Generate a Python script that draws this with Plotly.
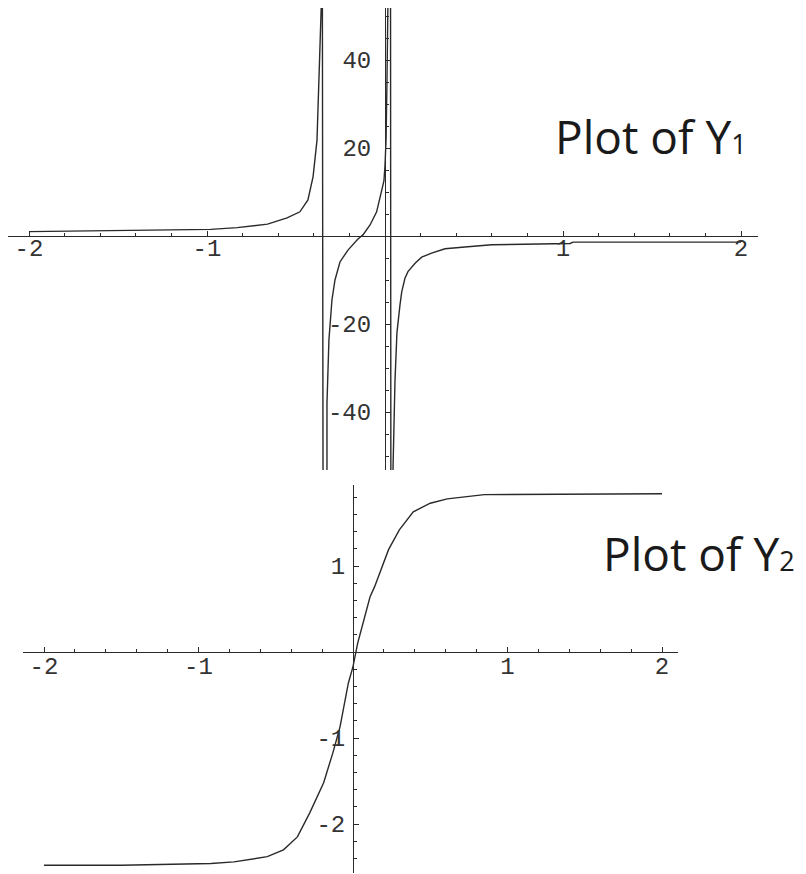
import plotly.graph_objects as go

# ---------- data ---------- #
# Y1: three branches, joined across the poles like the original plot does
y1_x = [-2.0, -1.6, -1.30, -0.98, -0.83, -0.66, -0.55, -0.478, -0.433, -0.412,
        -0.404, -0.382, -0.376, -0.36, -0.352, -0.348, -0.327, -0.326, -0.326,
        -0.315, -0.298, -0.281, -0.253, -0.208, -0.152, -0.124, -0.084, -0.047,
        -0.028, -0.013, -0.006, 0.0, 0.006, 0.011, 0.017, 0.031, 0.033, 0.045,
        0.045, 0.056, 0.067, 0.084, 0.094, 0.112, 0.129, 0.169, 0.206, 0.262,
        0.337, 0.449, 0.60, 1.04, 1.056, 2.0]
y1_y = [1.0, 1.2, 1.4, 1.5, 1.9, 2.7, 4.1, 5.5, 8.2, 12.5,
        13.5, 21.8, 28.6, 50.6, 60, -60, -60, -52, -38,
        -23.6, -14.5, -10, -5.9, -3.2, -0.7, 0.25, 2.5, 5.5,
        8.5, 11.2, 12.5, 16, 22, 35, 55, 60, -60, -60,
        -53, -33, -22, -15.7, -12.7, -9.6, -8.1, -6.2, -4.8, -3.9,
        -2.9, -2.5, -2.0, -1.7, -1.4, -1.4]

y2_x = [-2.0, -1.5, -0.92, -0.77, -0.555, -0.45, -0.36, -0.28, -0.19, -0.13,
        -0.084, -0.03, 0.0, 0.03, 0.11, 0.14, 0.23, 0.28, 0.30, 0.39, 0.50,
        0.61, 0.71, 0.85, 2.0]
y2_y = [-2.48, -2.48, -2.46, -2.44, -2.38, -2.30, -2.15, -1.87, -1.52, -1.17,
        -0.87, -0.36, -0.17, 0.10, 0.64, 0.76, 1.19, 1.36, 1.42, 1.63, 1.73,
        1.78, 1.80, 1.83, 1.84]

x_ticks = [-2, -1, 1, 2]
x_tick_text = ["-2", "-1", "1", "2"]
y1_ticks = [-40, -20, 20, 40]
y1_tick_text = ["-40", "-20", "20", "40"]
y2_ticks = [-2, -1, 1]
y2_tick_text = ["-2", "-1", "1"]

# the page puts the figure 8px in from the window corner
OFF = 8
FW, FH = 806 - OFF, 874 - OFF
LINE = "#2a2a2a"
TICK_FONT = dict(family="Liberation Mono", size=24, color="#333333")


def fx(px):
    return (px - OFF) / FW


def fy(py):
    return 1 - (py - OFF) / FH


def axis_style(ticks, text, minor_step, standoff):
    return dict(
        tickmode="array", tickvals=ticks, ticktext=text,
        ticks="inside", ticklen=5, tickwidth=1, tickcolor=LINE,
        minor=dict(tickmode="linear", tick0=0, dtick=minor_step,
                   ticks="inside", ticklen=3, tickcolor=LINE),
        showline=True, linecolor=LINE, linewidth=1,
        showgrid=False, zeroline=False, tickfont=TICK_FONT,
        ticklabelstandoff=standoff, anchor="free",
    )


fig = go.Figure()
fig.add_trace(go.Scatter(x=y1_x, y=y1_y, mode="lines",
                         line=dict(color=LINE, width=1.4),
                         xaxis="x", yaxis="y", showlegend=False))
fig.add_trace(go.Scatter(x=y2_x, y=y2_y, mode="lines",
                         line=dict(color=LINE, width=1.4),
                         xaxis="x2", yaxis="y2", showlegend=False))

# top plot: origin at (385, 236) px, 178 px per x unit, 4.4 px per y unit
fig.update_layout(
    xaxis=dict(axis_style(x_ticks, x_tick_text, 0.2, -10),
               domain=[fx(8), fx(758)], range=[(8 - 385) / 178, (758 - 385) / 178],
               position=fy(236)),
    yaxis=dict(axis_style(y1_ticks, y1_tick_text, 5, 9),
               domain=[fy(470), fy(8)], range=[-(470 - 236) / 4.4, (236 - 8) / 4.4],
               position=fx(385)),
    # bottom plot: origin at (353, 652) px, 154.5 px per x unit, 86 px per y unit
    xaxis2=dict(axis_style(x_ticks, x_tick_text, 0.2, -8),
                domain=[fx(23), fx(678)], range=[(23 - 353) / 154.5, (678 - 353) / 154.5],
                position=fy(652)),
    yaxis2=dict(axis_style(y2_ticks, y2_tick_text, 0.2, 3),
                domain=[fy(873), fy(485)], range=[-(873 - 652) / 86, (652 - 485) / 86],
                position=fx(353)),
)

title_font = dict(family="Open Sans", size=46, color="#1a1a1a")
fig.add_annotation(text='Plot of Y<span style="font-size:27px">1</span>',
                   xref="paper", yref="paper", x=fx(553), y=fy(136),
                   xanchor="left", yanchor="middle", showarrow=False, font=title_font)
fig.add_annotation(text='Plot of Y<span style="font-size:27px">2</span>',
                   xref="paper", yref="paper", x=fx(601), y=fy(553),
                   xanchor="left", yanchor="middle", showarrow=False, font=title_font)

fig.update_layout(
    width=FW, height=FH,
    margin=dict(l=0, r=0, t=0, b=0),
    paper_bgcolor="white", plot_bgcolor="white",
)

fig.write_html("out.html")
